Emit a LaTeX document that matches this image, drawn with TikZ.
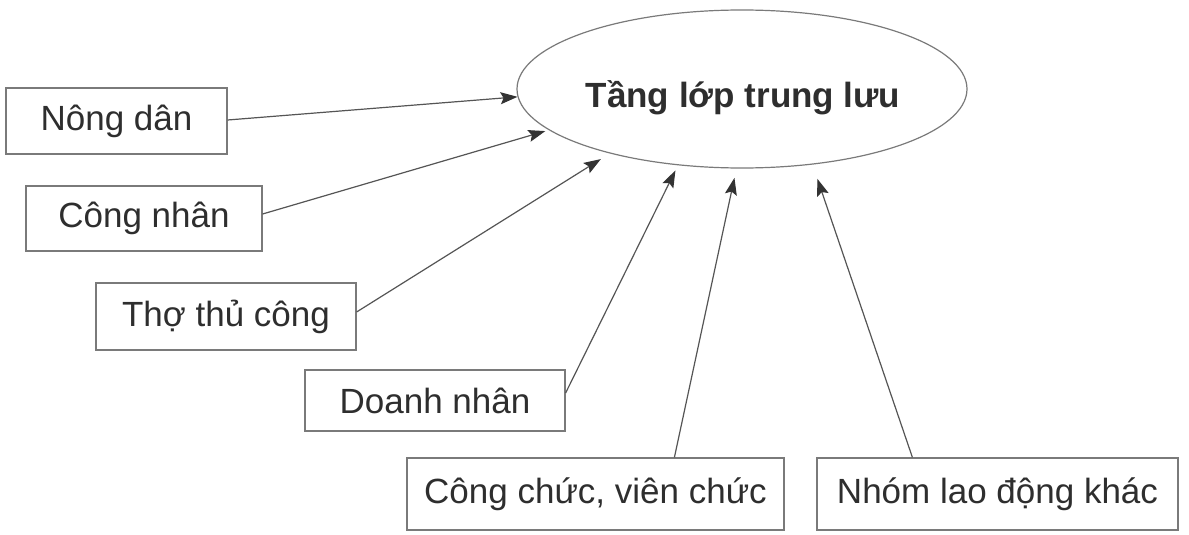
\documentclass[tikz,border=0pt]{standalone}
\usepackage{fontspec}
\setmainfont{Liberation Sans}
\usetikzlibrary{shapes.geometric,arrows.meta}
\definecolor{inkline}{HTML}{555555}
\definecolor{inkhead}{HTML}{333333}
\definecolor{boxline}{HTML}{7A7A7A}
\definecolor{inktext}{HTML}{2E2E2E}
\tikzset{
  box/.style={draw=boxline, line width=1.2pt, rectangle, inner sep=0pt,
    text=inktext, font=\fontsize{35}{40}\selectfont},
  oval/.style={draw=boxline, line width=1.2pt, ellipse, inner sep=0pt,
    minimum width=450pt, minimum height=158pt},
  ovaltext/.style={text=inktext, font=\fontsize{35}{40}\selectfont\bfseries, inner sep=0pt},
  arr/.style={draw=inkline, line width=1.2pt,
    -{Stealth[length=17pt,width=12pt,inset=3pt,color=inkhead]}}
}
\begin{document}
\begin{tikzpicture}[x=1pt,y=-1pt]
\fill[white] (0,0) rectangle (1189,535);
\useasboundingbox (0,0) rectangle (1189,535);

\node[oval] (tl) at (742,89) {};
\node[ovaltext] (tltext) at (743,98) {Tầng lớp trung lưu};

\node[box, minimum width=221pt, minimum height=66pt] (nong) at (116.5,121) {Nông dân};
\node[box, minimum width=236pt, minimum height=65pt] (cong) at (144,218.5) {Công nhân};
\node[box, minimum width=260pt, minimum height=67pt] (tho) at (226,316.5) {Thợ thủ công};
\node[box, minimum width=260pt, minimum height=61pt] (doanh) at (435,400.5) {Doanh nhân};
\node[box, minimum width=377pt, minimum height=72pt] (chuc) at (595.5,494) {Công chức, viên chức};
\node[box, minimum width=361pt, minimum height=72pt] (nhom) at (997.5,494) {Nhóm lao động khác};

\draw[arr] ([yshift=1pt]nong.east) -- (tl.182.3);
\draw[arr, shorten >=3.6pt] ([yshift=4.5pt]cong.east) -- (tl.192.85);
\draw[arr, shorten >=10.5pt] ([yshift=4.5pt]tho.east) -- (tl.206.4);
\draw[arr, shorten >=5.7pt] ([yshift=7.5pt]doanh.east) -- (tl.230.6);
\draw[arr, shorten >=9.5pt] ([xshift=268pt]chuc.north west) -- (tl.266.4);
\draw[arr, shorten >=15pt] ([xshift=96pt]nhom.north west) -- (tl.313.1);
\end{tikzpicture}
\end{document}
